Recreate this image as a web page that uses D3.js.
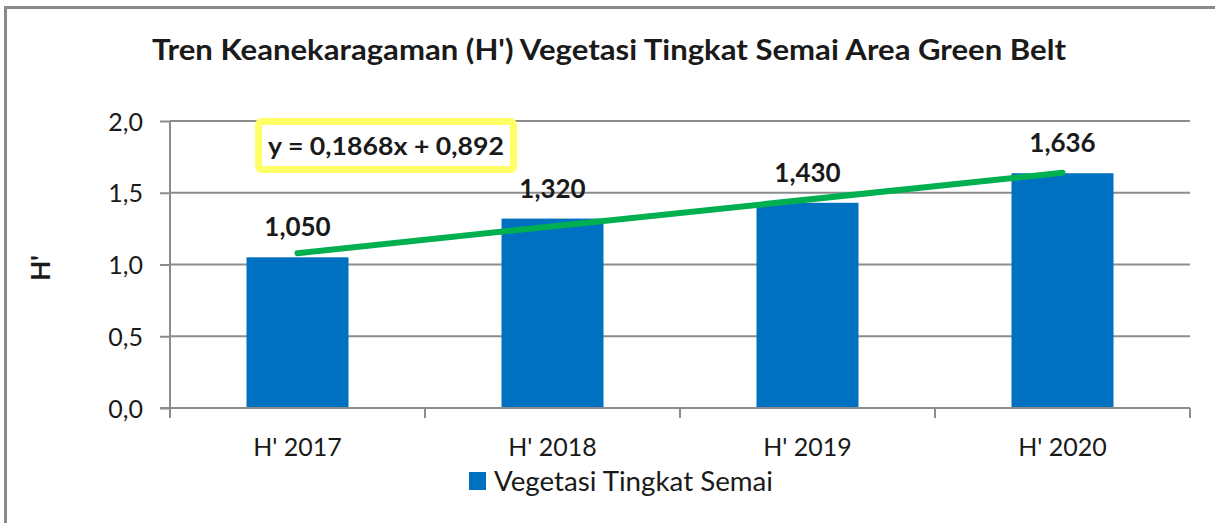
<!DOCTYPE html>
<html>
<head>
<meta charset="utf-8">
<script src="https://cdn.jsdelivr.net/npm/d3@7"></script>
<style>
  body { margin: 0; background: #fff; overflow: hidden; }
  svg { display: block; }
  svg text { font-family: Lato, "Open Sans", sans-serif; fill: #1a1a1a; }
</style>
</head>
<body>
<svg id="chart" width="1215" height="523"></svg>
<script>
// data
const categories = ["H' 2017", "H' 2018", "H' 2019", "H' 2020"];
const values = [1.050, 1.320, 1.430, 1.636];
const valueLabels = ["1,050", "1,320", "1,430", "1,636"];
const yTicks = [0, 0.5, 1.0, 1.5, 2.0];
const yTickLabels = ["0,0", "0,5", "1,0", "1,5", "2,0"];
const trendSlope = 0.1868, trendIntercept = 0.892;
const trendText = "y = 0,1868x + 0,892";
const seriesName = "Vegetasi Tingkat Semai";
const title = "Tren Keanekaragaman (H') Vegetasi Tingkat Semai Area Green Belt";

const svg = d3.select("#chart");

// outer frame: only the top and left edges are inside the picture
svg.append("path")
  .attr("d", "M5.5,523V7.5H1215")
  .attr("fill", "none")
  .attr("stroke", "#8a8a8a").attr("stroke-width", 3);

const plotLeft = 170, plotRight = 1190, plotTop = 121, plotBottom = 408;

let x = d3.scaleBand().domain(categories).range([plotLeft, plotRight])
  .paddingInner(0.6).paddingOuter(0.3);
let y = d3.scaleLinear().domain([0, 2]).range([plotBottom, plotTop]);

// gridlines
svg.append("g").selectAll("line")
  .data(yTicks.filter(d => d > 0))
  .enter().append("line")
    .attr("x1", plotLeft).attr("x2", plotRight)
    .attr("y1", d => y(d)).attr("y2", d => y(d))
    .attr("stroke", "#8c8c8c").attr("stroke-width", 2);

// bars
svg.append("g").selectAll("rect")
  .data(values)
  .enter().append("rect")
    .attr("x", (d, i) => x(categories[i]))
    .attr("width", x.bandwidth())
    .attr("y", d => y(d))
    .attr("height", d => plotBottom - y(d))
    .attr("fill", "#0070c0");

// y axis
let yAxis = d3.axisLeft(y).tickValues(yTicks)
  .tickFormat((d, i) => yTickLabels[i]).tickSize(10).tickPadding(17);
let gy = svg.append("g").attr("transform", `translate(${plotLeft},0)`).call(yAxis);
gy.select(".domain").remove();
gy.selectAll(".tick line").attr("stroke", "#8c8c8c").attr("stroke-width", 2);
gy.selectAll(".tick text").attr("font-size", 25).attr("font-family", "Lato")
  .attr("fill", "#1a1a1a").attr("dy", "0.36em");
svg.append("line")
  .attr("x1", plotLeft).attr("x2", plotLeft).attr("y1", plotTop).attr("y2", plotBottom + 10)
  .attr("stroke", "#8c8c8c").attr("stroke-width", 2);

// x axis
let gx = svg.append("g").attr("transform", `translate(0,${plotBottom})`)
  .call(d3.axisBottom(x).tickSize(0).tickPadding(30));
gx.select(".domain").remove();
gx.selectAll(".tick text").attr("font-size", 25).attr("font-family", "Lato")
  .attr("fill", "#1a1a1a");
svg.append("line")
  .attr("x1", plotLeft - 10).attr("x2", plotRight).attr("y1", plotBottom).attr("y2", plotBottom)
  .attr("stroke", "#8c8c8c").attr("stroke-width", 2);
let bounds = d3.range(categories.length + 1).map(i => plotLeft + i * x.step());
svg.append("g").selectAll("line")
  .data(bounds)
  .enter().append("line")
    .attr("x1", d => d).attr("x2", d => d)
    .attr("y1", plotBottom).attr("y2", plotBottom + 10)
    .attr("stroke", "#8c8c8c").attr("stroke-width", 2);

// trendline
let cx = (i) => x(categories[i]) + x.bandwidth() / 2;
let trendPts = [0, categories.length - 1].map(i => [cx(i), y(trendSlope * (i + 1) + trendIntercept)]);
svg.append("path")
  .attr("d", d3.line()(trendPts))
  .attr("stroke", "#00b050").attr("stroke-width", 6)
  .attr("stroke-linecap", "round").attr("fill", "none");

// value labels
svg.append("g").selectAll("text")
  .data(values)
  .enter().append("text")
    .attr("x", (d, i) => cx(i))
    .attr("y", d => y(d) - 21)
    .attr("text-anchor", "middle")
    .attr("font-size", 26).attr("font-weight", "bold")
    .text((d, i) => valueLabels[i]);

// trend equation box
svg.append("rect")
  .attr("x", 258.5).attr("y", 121.5).attr("width", 255).attr("height", 48)
  .attr("rx", 3)
  .attr("fill", "#fff").attr("stroke", "#ffff66").attr("stroke-width", 7);
svg.append("text")
  .attr("x", 386).attr("y", 155)
  .attr("text-anchor", "middle")
  .attr("font-size", 24).attr("font-weight", "bold")
  .attr("textLength", 236).attr("lengthAdjust", "spacingAndGlyphs")
  .text(trendText);

// y axis title
svg.append("text")
  .attr("transform", "translate(50,268) rotate(-90)")
  .attr("text-anchor", "middle")
  .attr("font-size", 26).attr("font-weight", "bold")
  .text("H'");

// chart title
svg.append("text")
  .attr("x", 609).attr("y", 60)
  .attr("text-anchor", "middle")
  .attr("font-size", 29).attr("font-weight", "bold")
  .attr("textLength", 914).attr("lengthAdjust", "spacingAndGlyphs")
  .text(title);

// legend
let lg = svg.append("g");
lg.append("rect")
  .attr("x", 469).attr("y", 472).attr("width", 17).attr("height", 18)
  .attr("fill", "#0070c0");
lg.append("text")
  .attr("x", 494).attr("y", 491)
  .attr("font-size", 26)
  .attr("textLength", 279).attr("lengthAdjust", "spacingAndGlyphs")
  .text(seriesName);
</script>
</body>
</html>
